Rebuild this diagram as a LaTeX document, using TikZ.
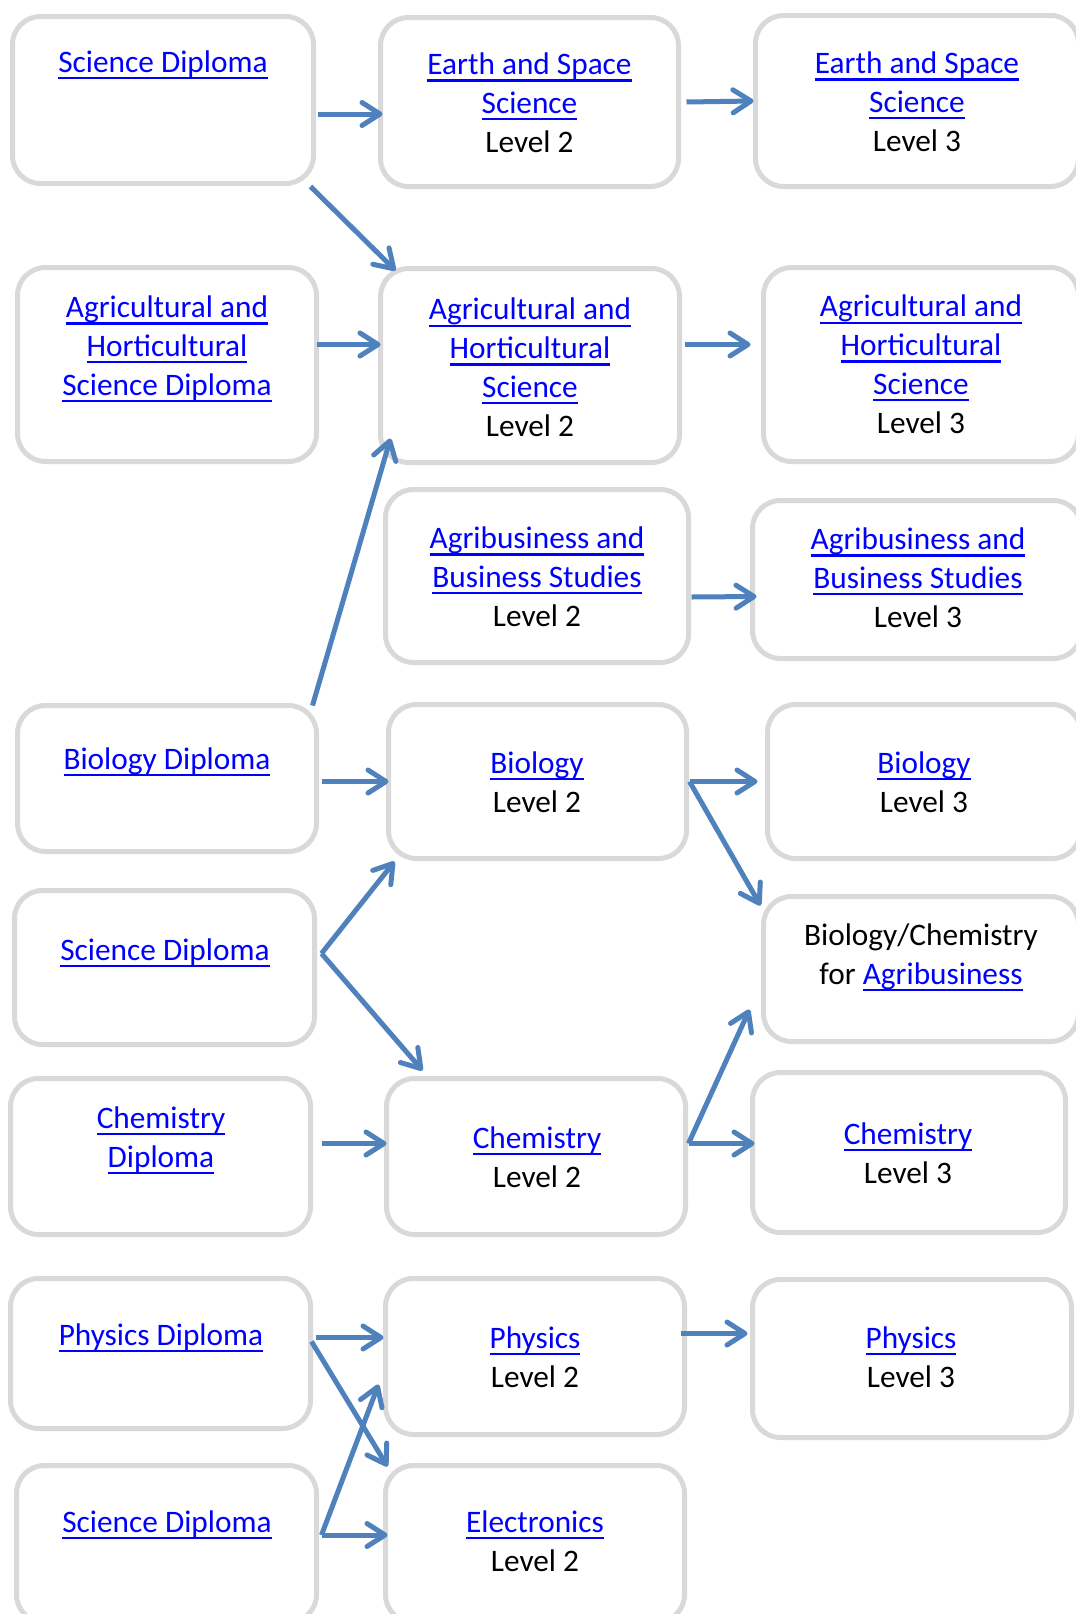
\documentclass[tikz,border=0pt]{standalone}
\usepackage{fontspec}
\setmainfont{Carlito}
\usetikzlibrary{arrows.meta}
\definecolor{linkblue}{RGB}{0,0,255}
\definecolor{arrowblue}{RGB}{79,129,189}
\definecolor{boxgrey}{RGB}{217,217,217}
\tikzstyle{box} = [rectangle, draw=boxgrey, line width=5pt, rounded corners=28pt, outer sep=0pt, minimum width=299pt, minimum height=156pt]
\tikzstyle{txt} = [align=center, anchor=base, inner sep=0pt, font=\fontsize{31.3}{38.7}\selectfont]
\tikzstyle{arrow} = [arrowblue, line width=5pt, -{Straight Barb[length=18pt,width=23pt,round]}]
\newcommand{\lnk}[1]{\textcolor{linkblue}{\setbox0=\hbox{#1}\rlap{\rule[-7pt]{\wd0}{2.3pt}}\box0}}

\begin{document}
\begin{tikzpicture}[x=1pt, y=1pt]

\useasboundingbox (0,0) rectangle (1076,-1614);
\clip (0,0) rectangle (1076,-1614);

% left column (text nodes sit on their last line)

\node[box, minimum width=301, minimum height=167] (sci_dip_1) at (163,-100) {};
\node[box, minimum height=194] (agri_dip) at (167,-364.5) {};
\node[box, minimum height=146] (bio_dip) at (167,-778.5) {};
\node[box, minimum width=300, minimum height=154] (sci_dip_2) at (164.5,-967.5) {};
\node[box, minimum width=300] (chem_dip) at (160.5,-1156.5) {};
\node[box, minimum width=300, minimum height=150] (phys_dip) at (160.5,-1353.5) {};
\node[box, minimum width=300, minimum height=157] (sci_dip_3) at (166.5,-1544) {};

\node[txt] (sci_dip_1_t) at (163,-72) {\lnk{Science Diploma}};
\node[txt] (agri_dip_t) at (167,-395) {\lnk{Agricultural and}\\\lnk{Horticultural}\\\lnk{Science Diploma}};
\node[txt] (bio_dip_t) at (167,-769) {\lnk{Biology Diploma}};
\node[txt] (sci_dip_2_t) at (165,-960) {\lnk{Science Diploma}};
\node[txt] (chem_dip_t) at (161,-1167) {\lnk{Chemistry}\\\lnk{Diploma}};
\node[txt] (phys_dip_t) at (161,-1345) {\lnk{Physics Diploma}};
\node[txt] (sci_dip_3_t) at (167,-1532) {\lnk{Science Diploma}};

% level 2

\node[box, minimum width=298, minimum height=169] (earth_2) at (529.5,-102) {};
\node[box, minimum height=194] (agri_2) at (530,-365.5) {};
\node[box, minimum width=303, minimum height=173] (busi_2) at (537,-576) {};
\node[box, minimum width=298, minimum height=154] (bio_2) at (537.5,-781.5) {};
\node[box] (chem_2) at (536,-1156.5) {};
\node[box] (phys_2) at (535,-1356.5) {};
\node[box, minimum height=157] (elec_2) at (535,-1544) {};

\node[txt] (earth_2_t) at (529.5,-152) {\lnk{Earth and Space}\\\lnk{Science}\\Level 2};
\node[txt] (agri_2_t) at (530,-436) {\lnk{Agricultural and}\\\lnk{Horticultural}\\\lnk{Science}\\Level 2};
\node[txt] (busi_2_t) at (537,-626) {\lnk{Agribusiness and}\\\lnk{Business Studies}\\Level 2};
\node[txt] (bio_2_t) at (537,-812) {\lnk{Biology}\\Level 2};
\node[txt] (chem_2_t) at (537,-1187) {\lnk{Chemistry}\\Level 2};
\node[txt] (phys_2_t) at (535,-1387) {\lnk{Physics}\\Level 2};
\node[txt] (elec_2_t) at (535,-1571) {\lnk{Electronics}\\Level 2};

% level 3

\node[box, minimum width=323, minimum height=171] (earth_3) at (917,-101) {};
\node[box, minimum width=315, minimum height=194] (agri_3) at (921,-364.5) {};
\node[box, minimum width=329, minimum height=158] (busi_3) at (917,-579.5) {};
\node[box, minimum width=313, minimum height=154] (bio_3) at (924,-781.5) {};
\node[box, minimum width=315, minimum height=145] (biochem) at (921,-969) {};
\node[box, minimum width=313, minimum height=160] (chem_3) at (909,-1152.5) {};
\node[box, minimum width=319, minimum height=158] (phys_3) at (912,-1358.5) {};

\node[txt] (earth_3_t) at (917,-151) {\lnk{Earth and Space}\\\lnk{Science}\\Level 3};
\node[txt] (agri_3_t) at (921,-433) {\lnk{Agricultural and}\\\lnk{Horticultural}\\\lnk{Science}\\Level 3};
\node[txt] (busi_3_t) at (918,-627) {\lnk{Agribusiness and}\\\lnk{Business Studies}\\Level 3};
\node[txt] (bio_3_t) at (924,-812) {\lnk{Biology}\\Level 3};
\node[txt] (biochem_t) at (921,-984) {Biology/Chemistry\\for \lnk{Agribusiness}};
\node[txt] (chem_3_t) at (908,-1183) {\lnk{Chemistry}\\Level 3};
\node[txt] (phys_3_t) at (911,-1387) {\lnk{Physics}\\Level 3};

% arrows

\draw [arrow] ([xshift=4,yshift=-14]sci_dip_1.east) -- ([xshift=2,yshift=-12]earth_2.west);
\draw [arrow] ([xshift=-3,yshift=-3]sci_dip_1.south east) -- ([xshift=15,yshift=-2]agri_2.north west);
\draw [arrow] ([xshift=8]earth_2.east) -- ([xshift=-2]earth_3.west);
\draw [arrow] ([yshift=20]agri_dip.east) -- ([yshift=21]agri_2.west);
\draw [arrow] ([xshift=5,yshift=21]agri_2.east) -- ([xshift=-13,yshift=20]agri_3.west);
\draw [arrow] ([xshift=-4]bio_dip.north east) -- ([xshift=10,yshift=24]agri_2.south west);
\draw [arrow] ([xshift=3,yshift=-21]busi_2.east) -- ([xshift=4,yshift=-17]busi_3.west);
\draw [arrow] ([xshift=5,yshift=-3]bio_dip.east) -- (bio_2.west);
\draw [arrow] ([xshift=3]bio_2.east) -- ([xshift=-10]bio_3.west);
\draw [arrow] ([xshift=3]bio_2.east) -- ([xshift=-3,yshift=-9]biochem.north west);
\draw [arrow] ([xshift=7,yshift=14]sci_dip_2.east) -- ([xshift=6,yshift=-3]bio_2.south west);
\draw [arrow] ([xshift=7,yshift=14]sci_dip_2.east) -- ([xshift=36,yshift=8]chem_2.north west);
\draw [arrow] ([xshift=11,yshift=13]chem_dip.east) -- ([yshift=13]chem_2.west);
\draw [arrow] ([xshift=3,yshift=13]chem_2.east) -- ([xshift=-14,yshift=32]biochem.south west);
\draw [arrow] ([xshift=3,yshift=13]chem_2.east) -- ([xshift=2,yshift=9]chem_3.west);
\draw [arrow] ([xshift=5,yshift=16]phys_dip.east) -- ([xshift=-2,yshift=19]phys_2.west);
\draw [arrow] ([xshift=1,yshift=12]phys_dip.east) -- ([xshift=2,yshift=-1]elec_2.north west);
\draw [arrow] ([xshift=5,yshift=9]sci_dip_3.east) -- ([xshift=-7,yshift=50]phys_2.south west);
\draw [arrow] ([xshift=5,yshift=9]sci_dip_3.east) -- ([xshift=2,yshift=9]elec_2.west);
\draw [arrow] ([xshift=-4,yshift=23]phys_2.east) -- ([xshift=-5,yshift=25]phys_3.west);

\end{tikzpicture}
\end{document}
